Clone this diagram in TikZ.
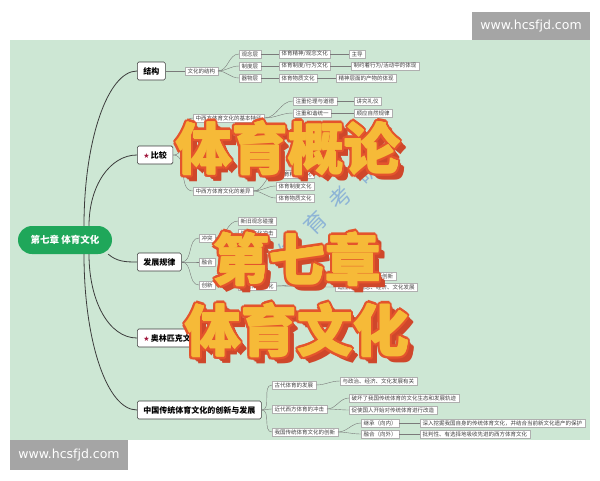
\documentclass[tikz,border=0pt]{standalone}
\usepackage{fontspec}
\setmainfont{Noto Sans CJK SC}
\newfontfamily\symfont{DejaVu Sans}
\usepackage{tikz}
\usetikzlibrary{calc,positioning}
\definecolor{mapbg}{HTML}{CDE7D4}
\definecolor{rootgreen}{HTML}{1FA75A}
\definecolor{linegray}{HTML}{3C3C3C}
\definecolor{leafline}{HTML}{7A7A7A}
\definecolor{starred}{HTML}{A0163C}
\definecolor{titlefill}{HTML}{F6BA38}
\definecolor{titleedge}{HTML}{E4542C}
\definecolor{titleshade}{HTML}{CF472B}
\definecolor{wmblue}{HTML}{8DB4D6}
\definecolor{markgray}{HTML}{A5A5A5}
\newcommand{\redstar}{{\symfont\color{starred}\fontsize{7}{8}\selectfont★}\,}
% big title: name, position, text
\newcommand{\bigtitle}[3]{%
  \foreach \d in {9,8,...,1}
    \node[bigtxt,text=titleshade] (#1s\d) at ([shift={(\d*0.75,\d*0.75)}]#2) {#3};
  \foreach \a in {0,30,...,330}
    \node[bigtxt,text=titleedge] (#1o\a) at ([shift={(\a:2.8)}]#2) {#3};
  \foreach \a in {0,90,180,270}
    \node[bigtxt,text=titlefill] (#1f\a) at ([shift={(\a:0.6)}]#2) {#3};
  \node[bigtxt,text=titlefill] (#1) at (#2) {#3};
}

\begin{document}
\begin{tikzpicture}[x=1pt,y=-1pt,
  root/.style={fill=rootgreen,text=white,rounded corners=14pt,minimum width=94pt,
    minimum height=28pt,font=\bfseries\fontsize{9.5}{10}\selectfont},
  topic/.style={draw=linegray,fill=white,rounded corners=1.5pt,line width=0.6pt,anchor=west,
    font=\bfseries\fontsize{8}{9}\selectfont,inner xsep=6pt,minimum height=18pt},
  leaf/.style={draw=leafline!60,fill=white,line width=0.3pt,anchor=west,text=black!75,
    font=\fontsize{5.5}{6}\selectfont,inner xsep=2.5pt,inner ysep=1pt,minimum height=8.5pt},
  branch/.style={draw=linegray,line width=0.8pt},
  twig/.style={draw=leafline,line width=0.4pt},
  urlbox/.style={fill=markgray,text=white,font=\symfont\fontsize{12.5}{13}\selectfont},
  bigtxt/.style={font=\bfseries\fontsize{56}{56}\selectfont,inner sep=0pt}]
\useasboundingbox (0,0) rectangle (600,480);
\fill[white] (0,0) rectangle (600,480);

\node[urlbox,minimum width=118pt,minimum height=28pt] (urltop) at (531,26) {www.hcsfjd.com};
\node[urlbox,minimum width=118pt,minimum height=30pt] (urlbot) at (69,455) {www.hcsfjd.com};

\begin{scope}
\clip (10,40) rectangle (590,440);
\fill[mapbg] (10,40) rectangle (590,440);

\node[root] (root) at (65,240) {第七章\ 体育文化};
\node[topic] (jg) at (137,71) {结构};
\node[topic] (bj) at (137,155) {\redstar 比较};
\node[topic] (fz) at (137,262) {发展规律};
\node[topic] (ao) at (137,338) {\redstar 奥林匹克文化};
\node[topic] (cx) at (137,410) {中国传统体育文化的创新与发展};

\draw[branch] ([xshift=19pt]root.north) to[out=90,in=180,out distance=86pt,in distance=29pt] (jg.west);
\draw[branch] ([xshift=24pt]root.north) to[out=90,in=180,out distance=40pt,in distance=27pt] (bj.west);
\draw[branch] ([xshift=-4pt]root.south east) to[out=-40,in=180] (fz.west);
\draw[branch] ([xshift=24pt]root.south) to[out=-90,in=180,out distance=47pt,in distance=28pt] (ao.west);
\draw[branch] ([xshift=19pt]root.south) to[out=-90,in=180,out distance=87pt,in distance=30pt] (cx.west);

% structure
\node[leaf] (jg1) at (185,71) {文化的结构};
\node[leaf] (jg11) at (239,54) {观念层};
\node[leaf] (jg12) at (239,66) {制度层};
\node[leaf] (jg13) at (239,78) {器物层};
\node[leaf] (jg21) at (279,54) {体育精神/观念文化};
\node[leaf] (jg22) at (279,66) {体育制度/行为文化};
\node[leaf] (jg23) at (279,78) {体育物质文化};
\node[leaf] (jg31) at (349,54) {主导};
\node[leaf] (jg32) at (351,66) {制约着行为/活动中的体现};
\node[leaf] (jg33) at (336,78) {精神层面的产物的体现};
\draw[twig] (jg) -- (jg1);
\foreach \i in {1,2,3} {
  \draw[twig] (jg1.east) to[out=0,in=180] (jg1\i.west);
  \draw[twig] (jg1\i) -- (jg2\i);
  \draw[twig] (jg2\i) -- (jg3\i);
}

% comparison
\node[leaf] (bj1) at (193,118) {中西方体育文化的基本特征};
\node[leaf] (bj2) at (193,191) {中西方体育文化的差异};
\node[leaf] (bj11) at (293,101) {注重伦理与道德};
\node[leaf] (bj12) at (293,113) {注重和谐统一};
\node[leaf] (bj111) at (354,101) {讲究礼仪};
\node[leaf] (bj121) at (354,113) {顺应自然规律};
\node[leaf] (bj21) at (276,174) {体育精神文化};
\node[leaf] (bj22) at (276,186) {体育制度文化};
\node[leaf] (bj23) at (276,198) {体育物质文化};
\draw[twig] (bj.east) to[out=0,in=180] (bj1.west);
\draw[twig] (bj.east) to[out=0,in=180] (bj2.west);
\foreach \i in {1,2} {
  \draw[twig] (bj1.east) to[out=0,in=180] (bj1\i.west);
  \draw[twig] (bj1\i) -- (bj1\i1);
}
\foreach \i in {1,2,3}
  \draw[twig] (bj2.east) to[out=0,in=180] (bj2\i.west);

% development
\node[leaf] (fz1) at (199,238) {冲突};
\node[leaf] (fz2) at (199,262) {融合};
\node[leaf] (fz3) at (199,285) {创新};
\node[leaf] (fz11) at (238,221) {新旧观念碰撞};
\node[leaf] (fz12) at (238,233) {外来文化冲击};
\node[leaf] (fz31) at (238,286) {传统体育文化};
\node[leaf] (fz311) at (330,276) {以传统为基础，不断创新};
\node[leaf] (fz312) at (335,287) {适应社会观念、经济、文化发展};
\foreach \i in {1,2,3}
  \draw[twig] (fz.east) to[out=0,in=180] (fz\i.west);
\foreach \i in {1,2}
  \draw[twig] (fz1.east) to[out=0,in=180] (fz1\i.west);
\draw[twig] (fz3) to[out=0,in=180] (fz31);
\draw[twig] (fz31.east) to[out=0,in=180] (fz311.west);
\draw[twig] (fz31.east) to[out=0,in=180] (fz312.west);

% innovation
\node[leaf] (cx1) at (272,385) {古代体育的发展};
\node[leaf] (cx2) at (272,409) {近代西方体育的冲击};
\node[leaf] (cx3) at (272,432) {我国传统体育文化的创新};
\node[leaf] (cx11) at (340,381) {与政治、经济、文化发展有关};
\node[leaf] (cx21) at (349,398) {破坏了我国传统体育的文化生态和发展轨迹};
\node[leaf] (cx22) at (349,410) {促使国人开始对传统体育进行改造};
\node[leaf] (cx31) at (361,423) {继承（向内）};
\node[leaf] (cx32) at (361,434) {融合（向外）};
\node[leaf] (cx311) at (420,423) {深入挖掘我国自身的传统体育文化，并结合当前新文化遗产的保护};
\node[leaf] (cx321) at (420,434) {批判性、有选择地吸收先进的西方体育文化};
\foreach \i in {1,2,3}
  \draw[twig] (cx.east) to[out=0,in=180] (cx\i.west);
\draw[twig] (cx1.east) to[out=0,in=180] (cx11.west);
\foreach \i in {1,2} {
  \draw[twig] (cx2.east) to[out=0,in=180] (cx2\i.west);
  \draw[twig] (cx3.east) to[out=0,in=180] (cx3\i.west);
  \draw[twig] (cx3\i) -- (cx3\i1);
}

% watermark
\node[text=wmblue,rotate=45,font=\fontsize{22}{22}\selectfont,inner sep=0pt] (wm) at (328,210)
  {体\hspace{14pt}育\hspace{14pt}考\hspace{14pt}研};
\end{scope}

% overlay title
\bigtitle{tA}{288,148}{体育概论}
\bigtitle{tB}{297,259}{第七章}
\bigtitle{tC}{297,330}{体育文化}
\end{tikzpicture}
\end{document}
